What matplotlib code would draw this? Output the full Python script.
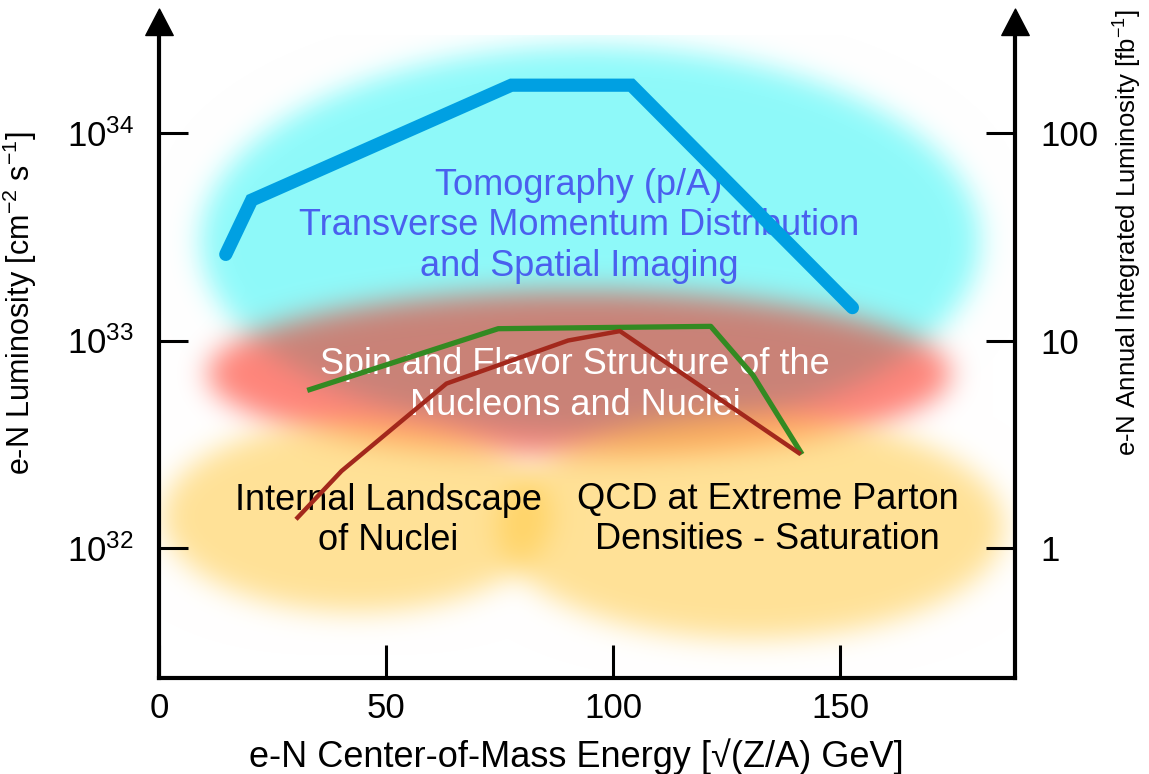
import matplotlib
matplotlib.use("Agg")
import matplotlib.pyplot as plt
import numpy as np
from matplotlib.path import Path

plt.rcParams["font.family"] = ["Liberation Sans", "DejaVu Sans"]
plt.rcParams["mathtext.default"] = "regular"

# ---- data ----
blue_x = [14.7, 20.4, 77.6, 104.0, 152.7]
blue_y = [2.6e33, 4.75e33, 1.7e34, 1.7e34, 1.44e33]

green_x = [33.2, 74.7, 121.5, 130.8, 141.3]
green_y = [5.8e32, 1.14e33, 1.17e33, 6.8e32, 2.9e32]

red_x = [30.5, 40.2, 63.3, 90.1, 101.5, 140.9]
red_y = [1.4e32, 2.35e32, 6.2e32, 1.0e33, 1.11e33, 2.87e32]

xticks = [0, 50, 100, 150]
left_ticks = [1e32, 1e33, 1e34]
left_labels = ["$10^{32}$", "$10^{33}$", "$10^{34}$"]
right_ticks = [1, 10, 100]
right_labels = ["1", "10", "100"]

# physics regions: x centre, log10 L centre, x half-width, half-height in decades
regions = {
    "tomo": (95.0, 33.48, 86.0, 0.94),
    "spin": (92.5, 32.84, 82.0, 0.40),
    "nuclei": (43.5, 32.15, 43.0, 0.46),
    "qcd": (130.3, 32.10, 56.0, 0.54),
}
region_style = {
    "tomo": ((0.56, 0.98, 0.98), 1.0),
    "spin": ((1.0, 0.08, 0.0), 0.52),
    "nuclei": ((1.0, 0.79, 0.26), 0.55),
    "qcd": ((1.0, 0.79, 0.26), 0.55),
}

XMIN, XMAX = 0.0, 188.5
LMIN, LMAX = 31.3735, 34.4723


def blur(a, sigma):
    r = int(3 * sigma)
    t = np.arange(-r, r + 1)
    k = np.exp(-0.5 * (t / sigma) ** 2)
    k /= k.sum()
    a = np.apply_along_axis(lambda m: np.convolve(m, k, mode="same"), 1, a)
    a = np.apply_along_axis(lambda m: np.convolve(m, k, mode="same"), 0, a)
    return a


def region_image(nx=856, ny=643, sigma=14):
    xs = np.linspace(XMIN, XMAX, nx)
    ys = np.linspace(LMIN, LMAX, ny)
    X, Y = np.meshgrid(xs, ys)
    rgb = np.ones((ny, nx, 3))
    for key in ["tomo", "spin", "nuclei", "qcd"]:
        cx, cy, rx, ry = regions[key]
        color, alpha = region_style[key]
        mask = (((X - cx) / rx) ** 2 + ((Y - cy) / ry) ** 2 <= 1).astype(float)
        a = alpha * blur(mask, sigma)[..., None]
        rgb = rgb * (1 - a) + np.array(color) * a
    return rgb


fig = plt.figure(figsize=(11.49, 7.74), dpi=100)
pos = [159 / 1149, 96 / 774, 856 / 1149, 643 / 774]

ax_bg = fig.add_axes(pos)
ax_bg.imshow(region_image(), extent=[XMIN, XMAX, LMIN, LMAX], origin="lower",
             aspect="auto", interpolation="bilinear")
ax_bg.set_xlim(XMIN, XMAX)
ax_bg.set_ylim(LMIN, LMAX)
ax_bg.axis("off")

ax = fig.add_axes(pos)
ax.set_facecolor("none")
ax.set_yscale("log")
ax.set_xlim(XMIN, XMAX)
ax.set_ylim(10 ** LMIN, 10 ** LMAX)

ax2 = ax.twinx()
ax2.set_yscale("log")
ax2.set_ylim(10 ** LMIN * 1e-32, 10 ** LMAX * 1e-32)

# region texts (under the curves)
ax.text(92.5, 3.57e33, "Tomography (p/A)\nTransverse Momentum Distribution\nand Spatial Imaging",
        color="#4a60ee", fontsize=26, ha="center", va="center", linespacing=1.2, zorder=2)
ax.text(91.6, 6.1e32, "Spin and Flavor Structure of the\nNucleons and Nuclei",
        color="white", fontsize=26, ha="center", va="center", linespacing=1.2, zorder=2)
ax.text(50.5, 1.36e32, "Internal Landscape\nof Nuclei",
        color="black", fontsize=26, ha="center", va="center", linespacing=1.2, zorder=2)
ax.text(134.0, 1.37e32, "QCD at Extreme Parton\nDensities - Saturation",
        color="black", fontsize=26, ha="center", va="center", linespacing=1.2, zorder=2)

ax.plot(blue_x, blue_y, color="#00a0e2", linewidth=9.5, solid_capstyle="round",
        solid_joinstyle="miter", zorder=4)
ax.plot(green_x, green_y, color="#338a22", linewidth=3.8, zorder=3)
ax.plot(red_x, red_y, color="#a3281c", linewidth=3.2, zorder=3)

# axes styling
for s in ["top", "right"]:
    ax.spines[s].set_visible(False)
for s in ["top", "left", "bottom"]:
    ax2.spines[s].set_visible(False)
for s in ["left", "bottom"]:
    ax.spines[s].set_linewidth(3)
ax2.spines["right"].set_linewidth(3)

ax.set_xticks(xticks)
ax.set_yticks(left_ticks, labels=left_labels)
ax.yaxis.set_minor_locator(plt.NullLocator())
ax2.set_yticks(right_ticks, labels=right_labels)
ax2.yaxis.set_minor_locator(plt.NullLocator())

ax.tick_params(axis="y", direction="in", length=21, width=2.2, labelsize=25, pad=18)
ax.tick_params(axis="x", direction="in", length=24, width=2.2, labelsize=25, pad=10)
ax2.tick_params(axis="y", direction="in", length=21, width=2.2, labelsize=25, pad=18)

fig.text(576 / 1149, 1 - 757 / 774, "e-N Center-of-Mass Energy [\u221a(Z/A) GeV]",
         fontsize=26, ha="center", va="center")
fig.text(20 / 1149, 1 - 303 / 774, "e-N Luminosity [cm$^{-2}$ s$^{-1}$]",
         fontsize=22, rotation=90, ha="center", va="center")
fig.text(1128 / 1149, 1 - 233 / 774, "e-N Annual Integrated Luminosity [fb$^{-1}$]",
         fontsize=18.5, rotation=90, ha="center", va="center")

# arrow heads on the two vertical axes
head = Path([(0, 1), (-0.52, 0), (0.52, 0), (0, 1)],
            [Path.MOVETO, Path.LINETO, Path.LINETO, Path.CLOSEPOLY])
for xa in (0, 1):
    ax.plot([xa], [1], marker=head, markersize=38, color="black",
            transform=ax.transAxes, clip_on=False, zorder=6)

fig.savefig("out.png", dpi=100)
